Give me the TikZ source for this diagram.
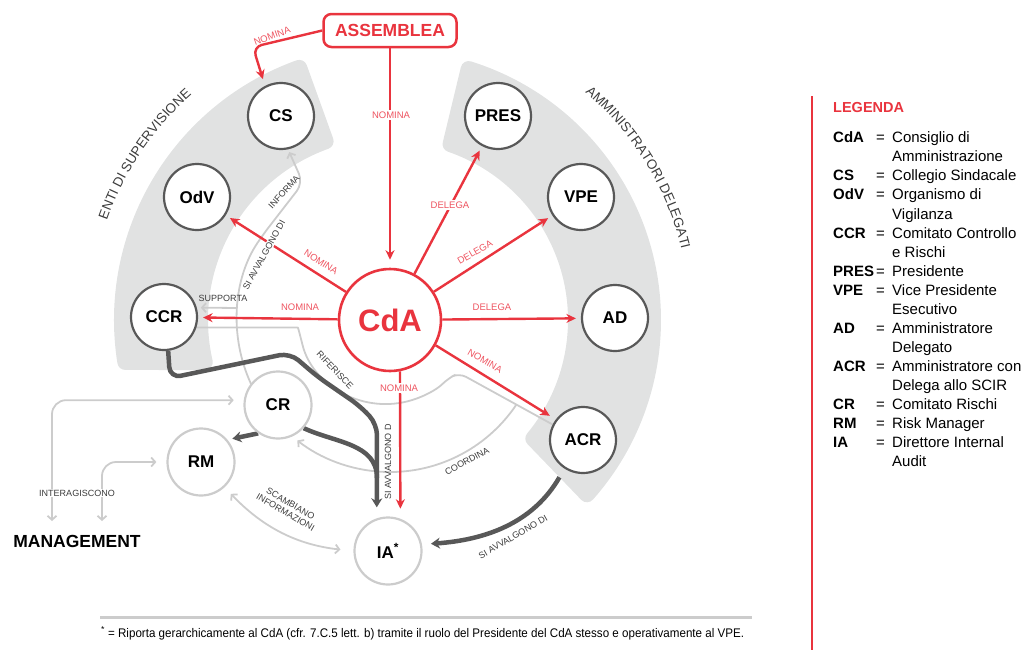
\documentclass[tikz,border=0pt]{standalone}
\usepackage{fontspec}
\setmainfont{Liberation Sans}
\usetikzlibrary{arrows.meta,decorations.text,calc}
\definecolor{redc}{RGB}{233,52,62}
\definecolor{redl}{RGB}{238,84,96}
\definecolor{darkc}{RGB}{88,88,88}
\definecolor{lightc}{RGB}{204,204,204}
\definecolor{bandc}{RGB}{225,226,226}
\definecolor{labc}{RGB}{60,60,60}
\pgfdeclarelayer{bandlayer}
\pgfdeclarelayer{linelayer}
\pgfsetlayers{bandlayer,linelayer,main}
\tikzset{
  cdanode/.style={circle, draw=redc, line width=2.6pt, fill=white, minimum size=102pt, inner sep=0pt, text=redc, font=\fontsize{31}{34}\selectfont\bfseries},
  assnode/.style={rectangle, rounded corners=8pt, draw=redc, line width=2.5pt, fill=white, minimum width=133pt, minimum height=33pt, inner sep=0pt, text=redc, font=\fontsize{17.5}{20}\selectfont\bfseries},
  outnode/.style={circle, draw=darkc, line width=2.2pt, fill=white, minimum size=66pt, inner sep=0pt, font=\fontsize{17}{20}\selectfont\bfseries},
  lightnode/.style={circle, draw=lightc, line width=2.2pt, fill=white, minimum size=67pt, inner sep=0pt, font=\fontsize{17}{20}\selectfont\bfseries},
  redarrow/.style={draw=redc, line width=2.4pt, -{Stealth[length=9.5pt,width=9pt]}, shorten >=5pt},
  redlab/.style={text=redl, font=\fontsize{9.5}{11}\selectfont, inner sep=1.2pt},
  graylab/.style={text=labc, font=\fontsize{9}{10}\selectfont, inner sep=1pt},
  thinline/.style={draw=lightc, line width=1.8pt},
  thinarrow/.style={thinline, -{Straight Barb[length=4pt,width=9pt]}},
  bothbarb/.style={thinline, {Straight Barb[length=4pt,width=9pt]}-{Straight Barb[length=4pt,width=9pt]}},
  thickline/.style={draw=darkc, line width=4.5pt},
  thickarrow/.style={thickline, -{Stealth[length=9pt,width=11pt]}},
  legab/.style={anchor=base west, inner sep=0pt, font=\fontsize{15}{18}\selectfont\bfseries},
  legtx/.style={anchor=base west, inner sep=0pt, font=\fontsize{15}{18}\selectfont},
}
\begin{document}
\begin{tikzpicture}[x=1pt,y=1pt]
\useasboundingbox (0,0) rectangle (1032,-653);

% ---------- nodes ----------
\node[cdanode] (cda) at (390,-320) {CdA};
\node[assnode] (assemblea) at (390,-30.5) {ASSEMBLEA};
\node[outnode] (cs) at (281,-116) {CS};
\node[outnode] (odv) at (197,-197) {OdV};
\node[outnode] (ccr) at (164,-317) {CCR};
\node[outnode] (pres) at (498,-116) {PRES};
\node[outnode] (vpe) at (581,-197) {VPE};
\node[outnode] (ad) at (615,-318) {AD};
\node[outnode] (acr) at (583,-440) {ACR};
\node[lightnode] (cr) at (278,-405) {CR};
\node[lightnode] (rm) at (201,-462) {RM};
\node[lightnode] (ia) at (388,-551) {IA\textsuperscript{*}};
\node[font=\fontsize{17.5}{20}\selectfont\bfseries] (mgmt) at (77,-541) {MANAGEMENT};

\coordinate (m1) at (52,-521);
\coordinate (m2) at (102,-521);
\coordinate (crtop) at ($(cda)+(204.8:153)$);
\coordinate (sup) at ($(cda)+(175.5:153)$);
\coordinate (cob) at ($(459,-373)!0.613!(acr.153)$);
\coordinate (j1) at (377,-478);

% ---------- bands ----------
\begin{pgfonlayer}{bandlayer}
\filldraw[bandc, line width=16pt, line join=round]
  (390,-320) ++(109.8:268) arc[start angle=109.8, end angle=189, radius=268]
  -- ($(390,-320)+(192.8:190)$) arc[start angle=192.8, end angle=109.8, radius=190] -- cycle;
\filldraw[bandc, line width=16pt, line join=round]
  (390,-320) ++(72.6:263) arc[start angle=72.6, end angle=-41.5, radius=263]
  -- ($(390,-320)+(-39.6:186)$) arc[start angle=-39.6, end angle=71, radius=186] -- cycle;
\path[decorate, decoration={text along path, text align=center,
  text={|\fontsize{13.5}{16}\selectfont\color{labc}|ENTI DI SUPERVISIONE}}]
  (390,-320) ++(176:300) arc[start angle=176, end angle=116, radius=300];
\path[decorate, decoration={text along path, text align=center,
  text={|\fontsize{13.5}{16}\selectfont\color{labc}|AMMINISTRATORI DELEGATI}}]
  (390,-320) ++(61.5:300) arc[start angle=61.5, end angle=1.5, radius=300];
\draw[lightc, line width=3pt] (100,-617) -- (752,-617);
\draw[redc, line width=2.5pt] (812,-96) -- (812,-650);
\end{pgfonlayer}

% ---------- connectors ----------
\begin{pgfonlayer}{linelayer}
% light grey
\draw[bothbarb, rounded corners=14pt, shorten >=10pt] (m1) |- (cr.172);
\draw[bothbarb, rounded corners=14pt, shorten >=10pt] (m2) |- (rm.west);
\draw[bothbarb, shorten >=13pt, shorten <=9pt] (rm.-47) to[bend right=20] (ia.west);
\draw[thinarrow, rounded corners=10pt, shorten >=3pt] (crtop) arc[start angle=204.8, end angle=146, radius=153] -- (303,-183) -- (cs.-78);
\draw[thinarrow, shorten >=4pt] (sup) -- (ccr.16);
\draw[thinline, rounded corners=8pt] (ccr.-18) -- (289,-327.5) .. controls (298,-327.5) .. (300.61,-337.29)
  arc[start angle=194, end angle=315, radius=88] -- (459,-373) -- (acr.153);
\draw[thinarrow, shorten >=1pt] (cob) arc[start angle=-33.8, end angle=-128, radius=152];
% dark thick
\draw[thickarrow, rounded corners=11pt, shorten >=11pt] (ccr.-83) -- (170,-378) -- (290,-353) -- (318,-377) -- (360,-406) -- (377,-424) -- (ia.109);
\draw[thickline] (cr.-42) to[out=-25, in=90] (j1);
\draw[thickarrow, shorten >=5pt] (cr.-125) -- (rm.40);
\draw[thickarrow, shorten >=9pt, shorten <=10pt] (acr.-123) to[out=-120, in=4] (ia.11);
% red
\draw[redarrow, shorten >=8pt] (assemblea.south) -- (cda.north);
\draw[redarrow, rounded corners=9pt, shorten >=7pt] (assemblea.west) -- (253,-47) -- (cs.118);
\draw[redarrow] (cda) -- (odv);
\draw[redarrow] (cda) -- (ccr);
\draw[redarrow] (cda) -- (pres);
\draw[redarrow] (cda) -- (vpe);
\draw[redarrow] (cda) -- (ad);
\draw[redarrow, shorten >=7pt] (cda.-29) -- (acr.143);
\draw[redarrow, shorten >=10pt] (cda.-79) -- (ia.69);
\end{pgfonlayer}

% ---------- labels ----------
\node[redlab, rotate=20] (n0) at (272,-36) {NOMINA};
\node[redlab, fill=white] (n1) at (391,-115) {NOMINA};
\node[redlab, rotate=-33] (n2) at (321,-262) {NOMINA};
\node[redlab] (n3) at (300,-307) {NOMINA};
\node[redlab, fill=white] (n4) at (399,-388) {NOMINA};
\node[redlab, rotate=-30] (n5) at (485,-361) {NOMINA};
\node[redlab, fill=white] (d1) at (450,-205) {DELEGA};
\node[redlab, rotate=30] (d2) at (475,-252) {DELEGA};
\node[redlab] (d3) at (492,-307) {DELEGA};

\node[graylab, rotate=61, fill=white] (lsa) at (264,-255) {SI AVVALGONO DI};
\node[graylab, rotate=48] (linf) at (284,-192) {INFORMA};
\node[graylab] (lsup) at (223,-298) {SUPPORTA};
\node[graylab, rotate=-46] (lrif) at (335,-370) {RIFERISCE};
\node[graylab, rotate=28.5] (lcoo) at (467,-461) {COORDINA};
\node[graylab, rotate=90] (lsa2) at (388,-462) {SI AVVALGONO D};
\node[graylab, rotate=30] (lsa3) at (513,-537) {SI AVVALGONO DI};
\node[graylab, rotate=-30, align=center] (lsc) at (288,-508) {SCAMBIANO\\INFORMAZIONI};
\node[graylab, fill=white] (lint) at (77,-493) {INTERAGISCONO};

% ---------- legend ----------
\node[anchor=base west, inner sep=0pt, text=redc, font=\fontsize{14.5}{17}\selectfont\bfseries] (leg) at (833,-112) {LEGENDA};
\foreach \i/\ab in {0/CdA,2/CS,3/OdV,5/CCR,7/PRES,8/VPE,10/AD,12/ACR,14/CR,15/RM,16/IA}{
  \node[legab] (la\i) at (833,{-142.8-19.06*\i}) {\ab};
  \node[legtx] (le\i) at (876,{-142.8-19.06*\i}) {=};
}
\foreach \i/\tx in {0/Consiglio di,1/Amministrazione,2/Collegio Sindacale,3/Organismo di,4/Vigilanza,5/Comitato Controllo,6/e Rischi,7/Presidente,8/Vice Presidente,9/Esecutivo,10/Amministratore,11/Delegato,12/Amministratore con,13/Delega allo SCIR,14/Comitato Rischi,15/Risk Manager,16/Direttore Internal,17/Audit}{
  \node[legtx] (lt\i) at (892,{-142.8-19.06*\i}) {\tx};
}

% ---------- footnote ----------
\node[anchor=base west, inner sep=0pt, font=\fontsize{12.5}{14}\selectfont] (fn) at (101,-637)
  {\textsuperscript{*}\hspace{3pt}\resizebox{636pt}{\height}{= Riporta gerarchicamente al CdA (cfr. 7.C.5 lett. b) tramite il ruolo del Presidente del CdA stesso e operativamente al VPE.}};
\end{tikzpicture}
\end{document}
